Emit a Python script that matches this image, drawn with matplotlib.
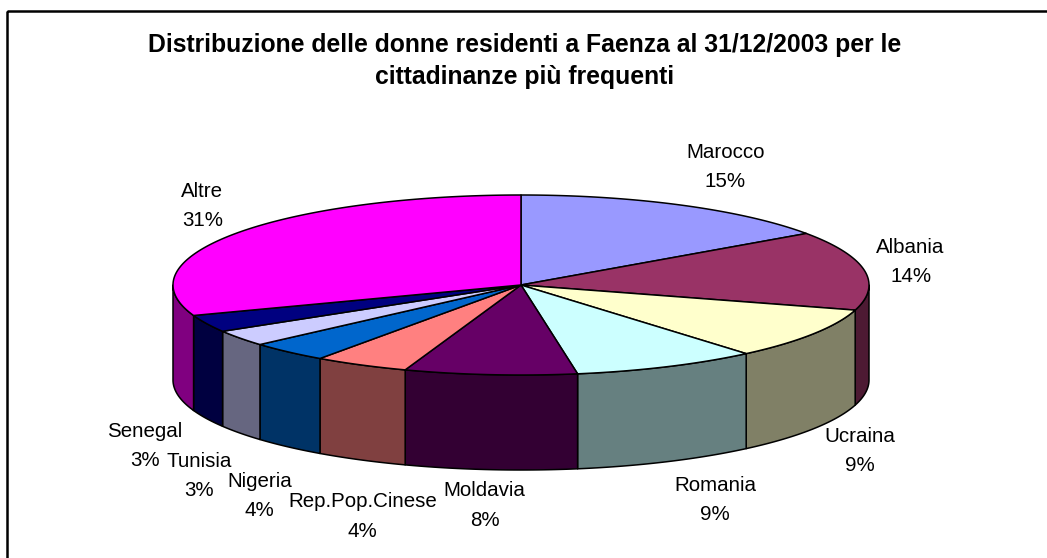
import numpy as np
import matplotlib
matplotlib.use("Agg")
import matplotlib.pyplot as plt
from matplotlib.patches import Polygon, Rectangle
from matplotlib.colors import to_rgb

# ---- data ----
countries = ["Marocco", "Albania", "Ucraina", "Romania", "Moldavia",
             "Rep.Pop.Cinese", "Nigeria", "Tunisia", "Senegal", "Altre"]
shares = [15.3, 14.2, 9.3, 8.6, 8.0, 4.4, 3.7, 2.9, 3.1, 30.5]
top_colors = ["#9999FF", "#993366", "#FFFFCC", "#CCFFFF", "#660066",
              "#FF8080", "#0066CC", "#CCCCFF", "#000080", "#FF00FF"]
title = ("Distribuzione delle donne residenti a Faenza al 31/12/2003 per le\n"
         "cittadinanze più frequenti")

# ---- layout ----
W, H = 1047, 558
cx, cy, a, b, depth = 521, 285, 348, 90, 95
label_nudge = [(18, -3), (-8, -2), (1, 0), (25, 2), (-1, -4),
               (27, 21), (8, 19), (3, 19), (-12, 10), (11, -4)]

plt.rcParams['font.family'] = ['Liberation Sans', 'DejaVu Sans']
fig = plt.figure(figsize=(W / 100, H / 100), dpi=100)
ax = fig.add_axes([0, 0, 1, 1])
ax.set_xlim(0, W)
ax.set_ylim(H, 0)
ax.axis('off')


def ell(t, ea=a, eb=b):
    return cx + ea * np.cos(t), cy - eb * np.sin(t)


def shade(c):
    return tuple(0.5 * v for v in to_rgb(c))


vals = np.array(shares, float)
total = vals.sum()
cum = np.concatenate([[0], np.cumsum(vals)]) / total
ang = np.deg2rad(90 - 360 * cum)
n = len(vals)
lw = 1.1

# side walls (front half only)
for i in range(n):
    hi, lo = ang[i], ang[i + 1]
    s, e = min(hi, 0.0), max(lo, -np.pi)
    if s > e:
        t = np.linspace(s, e, 120)
        x, y = ell(t)
        poly = np.column_stack([np.r_[x, x[::-1]], np.r_[y, y[::-1] + depth]])
        ax.add_patch(Polygon(poly, closed=True, fc=shade(top_colors[i]),
                             ec='black', lw=lw, joinstyle='round'))

# top faces
for i in range(n):
    t = np.linspace(ang[i], ang[i + 1], 200)
    x, y = ell(t)
    poly = np.column_stack([np.r_[cx, x], np.r_[cy, y]])
    ax.add_patch(Polygon(poly, closed=True, fc=top_colors[i],
                         ec='black', lw=lw, joinstyle='round'))

# labels
for i in range(n):
    mid = 0.5 * (ang[i] + ang[i + 1])
    lx, ly = ell(mid, a + 55, b + 40)
    if np.sin(mid) < 0:
        ly += depth
    dx, dy = label_nudge[i]
    pct = f"{int(np.floor(vals[i] / total * 100 + 0.5))}%"
    ax.text(lx + dx, ly + dy, f"{countries[i]}\n{pct}", ha='center',
            va='center', fontsize=14.8, linespacing=1.69, color='black')

# title
ax.text(525, 61, title, ha='center', va='center', fontsize=17.85,
        fontweight='bold', linespacing=1.41)

# chart frame
ax.add_patch(Rectangle((7, 11), 1200, 700, fill=False, ec='black', lw=1.8))

fig.savefig("out.png", dpi=100)
